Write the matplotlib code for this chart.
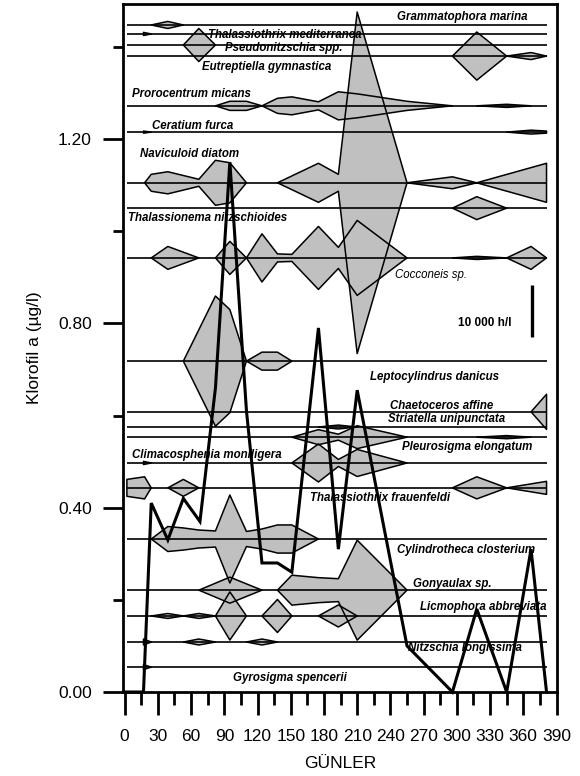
import matplotlib
matplotlib.use("Agg")
import matplotlib.pyplot as plt
from matplotlib.ticker import MultipleLocator, FixedLocator, FormatStrFormatter

# ---- chlorophyll-a (µg/l) through the sampling year ----
chl_days = [0, 17, 24, 39, 53, 68, 82, 95, 110, 124, 138, 151, 175, 193, 210, 255, 296, 318, 345, 367, 381]
chl_values = [0.0, 0.0, 0.41, 0.33, 0.42, 0.37, 0.66, 1.15, 0.61, 0.28, 0.28, 0.26, 0.79, 0.31, 0.655,
              0.10, 0.0, 0.18, 0.0, 0.31, 0.0]

# ---- species abundance (cells per litre), as (day, cells) runs ----
species = [
    "Grammatophora marina", "Thalassiothrix mediterranea", "Pseudonitzschia spp.",
    "Eutreptiella gymnastica", "Prorocentrum micans", "Ceratium furca", "Naviculoid diatom",
    "Thalassionema nitzschioides", "Cocconeis sp.", "Leptocylindrus danicus", "Chaetoceros affine",
    "Striatella unipunctata", "Pleurosigma elongatum", "Climacosphenia moniligera",
    "Thalassiothrix frauenfeldi", "Cylindrotheca closterium", "Gonyaulax sp.",
    "Licmophora abbreviata", "Nitzschia longissima", "Gyrosigma spencerii",
]

grammatophora = [[(24, 0), (39, 1350), (53, 0)]]
thal_mediterranea = [[(17, 600), (24, 0)]]
pseudonitzschia = [[(53, 0), (67, 6350), (82, 0)]]
eutreptiella = [[(296, 0), (318, 9250), (345, 0), (367, 1350), (381, 0)]]
prorocentrum = [[(82, 0), (95, 1750), (110, 1750), (124, 0), (138, 2900), (151, 3450), (175, 1550),
                 (193, 5400), (210, 4600), (255, 1750), (296, 0)],
                [(318, 0), (345, 600), (367, 0)]]
ceratium = [[(17, 400), (24, 0)], [(345, 0), (367, 750), (381, 400)]]
naviculoid = [[(18, 0), (24, 3250), (39, 4250), (67, 1350), (82, 8650), (95, 7700), (110, 0)],
              [(138, 0), (175, 7500), (193, 3250), (210, 65600), (255, 0), (296, 2300), (318, 0),
               (381, 7500)]]
thalassionema = [[(296, 0), (318, 4400), (345, 0)]]
cocconeis = [[(24, 0), (39, 4400), (67, 0)],
             [(82, 0), (95, 6350), (110, 0), (124, 9250), (138, 1550), (151, 1350), (175, 12100),
              (193, 4050), (210, 14400), (255, 0)],
             [(296, 0), (318, 600), (345, 0), (367, 4400), (381, 0)]]
leptocylindrus = [[(53, 0), (82, 25000), (95, 19800), (110, 0), (124, 3450), (138, 3450), (151, 0)]]
chaetoceros = [[(367, 0), (381, 6750)]]
striatella = [[(175, 0), (193, 750), (210, 0)]]
pleurosigma = [[(151, 0), (175, 2900), (193, 1150), (210, 4400), (255, 0)], [(318, 0), (345, 600), (367, 0)]]
climacosphenia = [[(17, 600), (24, 0)], [(151, 0), (175, 7300), (193, 1350), (210, 5200), (255, 0)]]
thal_frauenfeldi = [[(2, 3250), (18, 4250), (24, 0)], [(39, 0), (53, 3250), (67, 0)],
                    [(296, 0), (318, 4250), (345, 0), (381, 2500)]]
cylindrotheca = [[(24, 0), (39, 4800), (53, 4250), (67, 3450), (82, 3100), (95, 16900), (110, 2900),
                  (124, 3850), (138, 5400), (151, 5400), (175, 0)]]
gonyaulax = [[(67, 0), (95, 5000), (124, 0)], [(138, 0), (151, 5750), (175, 4800), (193, 4400),
                                              (210, 19200), (255, 0)]]
licmophora = [[(24, 0), (39, 950), (53, 0), (67, 950), (82, 0), (95, 9250), (110, 0)],
              [(124, 0), (138, 6350), (151, 0)], [(175, 0), (193, 4250), (210, 0)]]
nitzschia = [[(17, 1150), (24, 0)], [(53, 0), (67, 1150), (82, 0)], [(110, 0), (124, 1150), (138, 0)]]
gyrosigma = [[(17, 950), (24, 0)]]

kites = [grammatophora, thal_mediterranea, pseudonitzschia, eutreptiella, prorocentrum, ceratium,
         naviculoid, thalassionema, cocconeis, leptocylindrus, chaetoceros, striatella, pleurosigma,
         climacosphenia, thal_frauenfeldi, cylindrotheca, gonyaulax, licmophora, nitzschia, gyrosigma]

# row (baseline) level of each species on the chlorophyll scale
rows = [1.4475, 1.428, 1.404, 1.380, 1.272, 1.215, 1.105, 1.050, 0.942, 0.718, 0.608, 0.575, 0.553,
        0.497, 0.443, 0.332, 0.221, 0.165, 0.1085, 0.054]
# where each species name is written (day, level)
label_spots = [(245.7, 1.465), (75.3, 1.426), (90.6, 1.398), (69.8, 1.356), (6.6, 1.298), (24.7, 1.228),
               (13.9, 1.168), (3.0, 1.029), (244.1, 0.905), (221.6, 0.684), (239.6, 0.621),
               (237.8, 0.592), (250.5, 0.532), (6.6, 0.514), (167.4, 0.421), (245.9, 0.308),
               (260.4, 0.234), (266.7, 0.184), (255.9, 0.095), (97.8, 0.030)]
label_weights = ["bold"] * 8 + ["normal"] + ["bold"] * 11

SCALE_CELLS = 10000      # cells per litre shown by the scale bar
SCALE_LEN = 0.113        # length of that bar on the level axis
FILL = "#c0c0c0"

plt.rcParams["font.family"] = ["Liberation Sans", "DejaVu Sans"]

fig = plt.figure(figsize=(5.8, 7.76), dpi=100)
ax = fig.add_axes([123 / 580, 84 / 776, 433.5 / 580, 688 / 776])
ax.set_xlim(-1.5, 390)
ax.set_ylim(0, 1.493)

first_day, last_day = 2, 381
for base, segs in zip(rows, kites):
    for seg in segs:
        d = [p[0] for p in seg]
        half = [p[1] / SCALE_CELLS * SCALE_LEN / 2 for p in seg]
        lo = [base - h for h in half]
        hi = [base + h for h in half]
        ax.fill_between(d, lo, hi, facecolor=FILL, edgecolor="none", zorder=1)
        ax.fill_between(d, lo, hi, facecolor="none", edgecolor="black", linewidth=1.1, zorder=3)

ax.hlines(rows, first_day, last_day, color="black", linewidth=1.2, zorder=2)

for name, (dx, dy), wt in zip(species, label_spots, label_weights):
    ax.text(dx, dy, name, fontsize=8.3, fontweight=wt, fontstyle="italic",
            ha="left", va="center", zorder=6)

# scale bar
bar_day, bar_bottom = 368, 0.770
ax.plot([bar_day, bar_day], [bar_bottom, bar_bottom + SCALE_LEN], color="black", linewidth=2.4,
        solid_capstyle="butt", zorder=6)
ax.text(301, 0.801, "10 000 h/l", fontsize=8.5, fontweight="bold", ha="left", va="center", zorder=6)

# chlorophyll line
ax.plot(chl_days, chl_values, color="black", linewidth=2.2, zorder=5, clip_on=False,
        solid_joinstyle="miter")

for s in ax.spines.values():
    s.set_linewidth(2.0)

ax.xaxis.set_major_locator(MultipleLocator(30))
ax.xaxis.set_minor_locator(MultipleLocator(15))
ax.yaxis.set_major_locator(FixedLocator([0.0, 0.4, 0.8, 1.2]))
ax.yaxis.set_minor_locator(FixedLocator([0.2, 0.6, 1.0, 1.4]))
ax.yaxis.set_major_formatter(FormatStrFormatter("%.2f"))
ax.tick_params(axis="x", which="major", direction="out", length=16.5, width=2, pad=10, labelsize=12.5)
ax.tick_params(axis="x", which="minor", direction="out", length=9.5, width=2)
ax.tick_params(axis="y", which="major", direction="out", length=14.4, width=2, pad=8, labelsize=12.5)
ax.tick_params(axis="y", which="minor", direction="out", length=7.5, width=2)

fig.text(35 / 580, 1 - 348 / 776, "Klorofil a (µg/l)", rotation=90, ha="center", va="center",
         fontsize=12.5)
fig.text(340 / 580, 1 - 763 / 776, "GÜNLER", ha="center", va="center", fontsize=12.5)

fig.savefig("out.png", dpi=100)
